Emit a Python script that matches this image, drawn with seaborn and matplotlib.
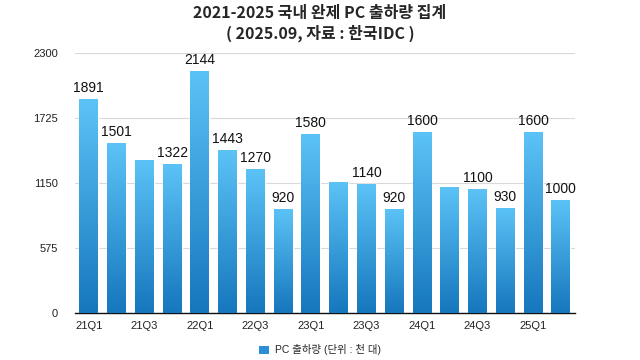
import matplotlib
matplotlib.use("Agg")
import matplotlib.pyplot as plt
import numpy as np
import pandas as pd
import seaborn as sns
from matplotlib.colors import LinearSegmentedColormap
from matplotlib.patches import Patch

sns.set_style("white")
plt.rcParams["font.family"] = ["Liberation Sans", "Noto Sans CJK KR"]

QUARTERS = ["21Q1", "21Q2", "21Q3", "21Q4", "22Q1", "22Q2", "22Q3", "22Q4",
            "23Q1", "23Q2", "23Q3", "23Q4", "24Q1", "24Q2", "24Q3", "24Q4",
            "25Q1", "25Q2"]
SHIPMENTS = [1891, 1501, 1355, 1322, 2144, 1443, 1270, 920,
             1580, 1160, 1140, 920, 1600, 1115, 1100, 930,
             1600, 1000]
# bars that carry a value label in the original
LABELED = [True, True, False, True, True, True, True, True,
           True, False, True, True, True, False, True, True,
           True, True]
Y_TICKS = [0, 575, 1150, 1725, 2300]
TITLE = "2021-2025 국내 완제 PC 출하량 집계\n( 2025.09, 자료 : 한국IDC )"
SERIES_NAME = "PC 출하량 (단위 : 천 대)"

TOP_COLOR = "#5cc3f7"
BOTTOM_COLOR = "#1677bd"

df = pd.DataFrame({"quarter": QUARTERS, "value": SHIPMENTS})

fig = plt.figure(figsize=(6.4, 3.6), dpi=100)
ax = fig.add_axes([0.117, 0.1306, 0.781, 0.7224])

sns.barplot(data=df, x="quarter", y="value", color=BOTTOM_COLOR, width=0.68,
            saturation=1, ax=ax, zorder=2)

# vertical gradient fill clipped to each bar
cmap = LinearSegmentedColormap.from_list("bar", [BOTTOM_COLOR, TOP_COLOR])
grad = np.linspace(0, 1, 256).reshape(-1, 1)
for bar in ax.patches:
    x0, w, h = bar.get_x(), bar.get_width(), bar.get_height()
    im = ax.imshow(grad, cmap=cmap, origin="lower", aspect="auto",
                   extent=(x0, x0 + w, 0, h), zorder=3)
    im.set_clip_path(bar)

for i, (val, show) in enumerate(zip(SHIPMENTS, LABELED)):
    if show:
        ax.text(i, val + 35, str(val), ha="center", va="bottom", fontsize=10,
                color="#111111", zorder=4)

ax.set_xlim(-0.5, len(QUARTERS) - 0.5)
ax.set_ylim(0, 2300)
ax.set_yticks(Y_TICKS)
ax.set_yticklabels([str(t) for t in Y_TICKS], fontsize=8, color="#222222")
ax.set_xticks(range(0, len(QUARTERS), 2))
ax.set_xticklabels(QUARTERS[::2], fontsize=8, color="#222222")
ax.tick_params(axis="both", length=0, pad=6)
ax.tick_params(axis="y", pad=12)
ax.yaxis.grid(True, color="#d9d9d9", linewidth=0.8, zorder=0)
ax.set_axisbelow(True)
ax.set_xlabel("")
ax.set_ylabel("")
for side in ["top", "right", "left"]:
    ax.spines[side].set_visible(False)
ax.spines["bottom"].set_color("#111111")
ax.spines["bottom"].set_linewidth(1.0)

fig.text(0.5, 0.985, TITLE, ha="center", va="top", fontsize=11.5,
         fontweight="bold", family=["Noto Sans CJK KR"], linespacing=1.25)

handle = Patch(facecolor="#2a8fd6", edgecolor="none", label=SERIES_NAME)
fig.legend(handles=[handle], loc="center", bbox_to_anchor=(0.5, 0.028),
           frameon=False, fontsize=7.5, handlelength=0.9, handleheight=0.9,
           handletextpad=0.6)

fig.savefig("out.png", dpi=100)
